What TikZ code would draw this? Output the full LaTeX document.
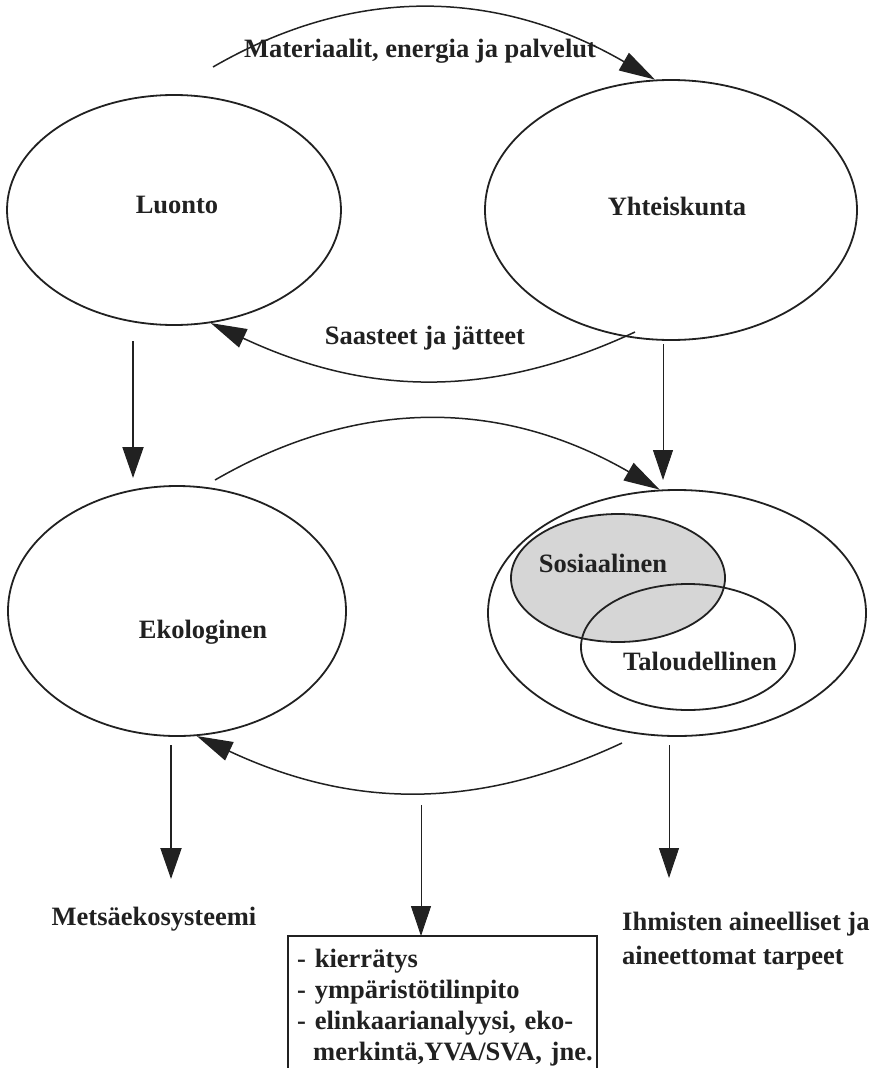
\documentclass[tikz,border=0pt]{standalone}
\usepackage{fontspec}
\setmainfont{Liberation Serif}
\usetikzlibrary{arrows.meta,shapes.geometric,calc}
\definecolor{ink}{gray}{0.13}
\definecolor{shade}{gray}{0.84}
\begin{document}
\begin{tikzpicture}[x=1pt,y=1pt,
  lbl/.style={font=\bfseries\fontsize{26.5}{31}\selectfont, text=ink, inner sep=0pt, anchor=base},
  oval/.style={ellipse, draw=ink, line width=1.8pt, inner sep=0pt},
  arc/.style={draw=ink, line width=1.5pt, -{Triangle[length=36pt,width=20pt]}},
  heavy/.style={draw=ink, line width=1.9pt, -{Triangle[length=31pt,width=21pt]}},
  light/.style={draw=ink, line width=0.9pt, -{Triangle[length=30pt,width=20pt]}}]
\useasboundingbox (0,0) rectangle (881,-1068);
\clip (0,0) rectangle (881,-1068);

% upper pair: nature and society
\node[oval, minimum width=334pt, minimum height=230pt] (luonto) at (174,-210) {};
\node[oval, minimum width=372pt, minimum height=260pt] (yht) at (671,-210) {};
\node[lbl] (luontoT) at (177,-213) {Luonto};
\node[lbl] (yhtT) at (677,-215) {Yhteiskunta};

% lower pair: ecological and social/economic
\node[oval, minimum width=338pt, minimum height=250pt] (ekol) at (177,-611) {};
\node[oval, minimum width=378pt, minimum height=246pt] (outer) at (677,-613) {};
\node[oval, fill=shade, minimum width=214pt, minimum height=128pt] (sos) at (618,-578) {};
\node[oval, minimum width=214pt, minimum height=126pt] (tal) at (688,-647) {};
\node[lbl] (ekolT) at (203,-638) {Ekologinen};
\node[lbl] (sosT) at (603,-572) {Sosiaalinen};
\node[lbl] (talT) at (700,-670) {Taloudellinen};

% flows between the upper ovals
\coordinate (mStart) at (213,-67);
\draw[arc] (mStart) to[out=30,in=150] (yht.97);
\node[lbl] (matT) at (420,-57) {Materiaalit, energia ja palvelut};
\coordinate (sStart) at (635,-332);
\draw[arc] (sStart) to[out=-155,in=-25] (luonto.-72);
\node[lbl] (saaT) at (425,-344) {Saasteet ja jätteet};

% flows between the lower ovals
\coordinate (eStart) at (215,-480);
\draw[arc] (eStart) to[out=30,in=150] (outer.98);
\coordinate (bStart) at (622,-743);
\draw[arc] (bStart) to[out=-155,in=-25] (ekol.-81);

% downward links
\coordinate (v1a) at (133,-341);
\coordinate (v1b) at (133,-478);
\draw[heavy] (v1a) -- (v1b);
\coordinate (v2a) at (663,-344);
\coordinate (v2b) at (663,-480);
\draw[light] (v2a) -- (v2b);
\coordinate (v3a) at (171,-745);
\coordinate (v3b) at (171,-879);
\draw[heavy] (v3a) -- (v3b);
\coordinate (v4a) at (669,-745);
\coordinate (v4b) at (669,-878);
\draw[light] (v4a) -- (v4b);

% results
\node[lbl] (metsa) at (154,-925) {Metsäekosysteemi};
\node[lbl, anchor=north west, align=left, font=\bfseries\fontsize{26.5}{34}\selectfont] (ihm) at (622,-912)
  {Ihmisten aineelliset ja\\aineettomat tarpeet};

% tools box
\node[lbl, anchor=north west, align=left, text width=310pt, inner xsep=9pt, inner ysep=13pt] (box) at (288,-936)
  {- kierrätys\\- ympäristötilinpito\\- elinkaarianalyysi, eko-\\\hspace*{16pt}merkintä,YVA/SVA, jne.};
\coordinate (boxNE) at ($(box.north west)+(309,0)$);
\draw[ink, line width=1.4pt] ($(box.north west)+(0,-200)$) -- (box.north west) -- (boxNE) -- ++(0,-200);
\coordinate (v5a) at (421,-805);
\draw[light] (v5a) -- (v5a |- box.north);
\end{tikzpicture}
\end{document}
